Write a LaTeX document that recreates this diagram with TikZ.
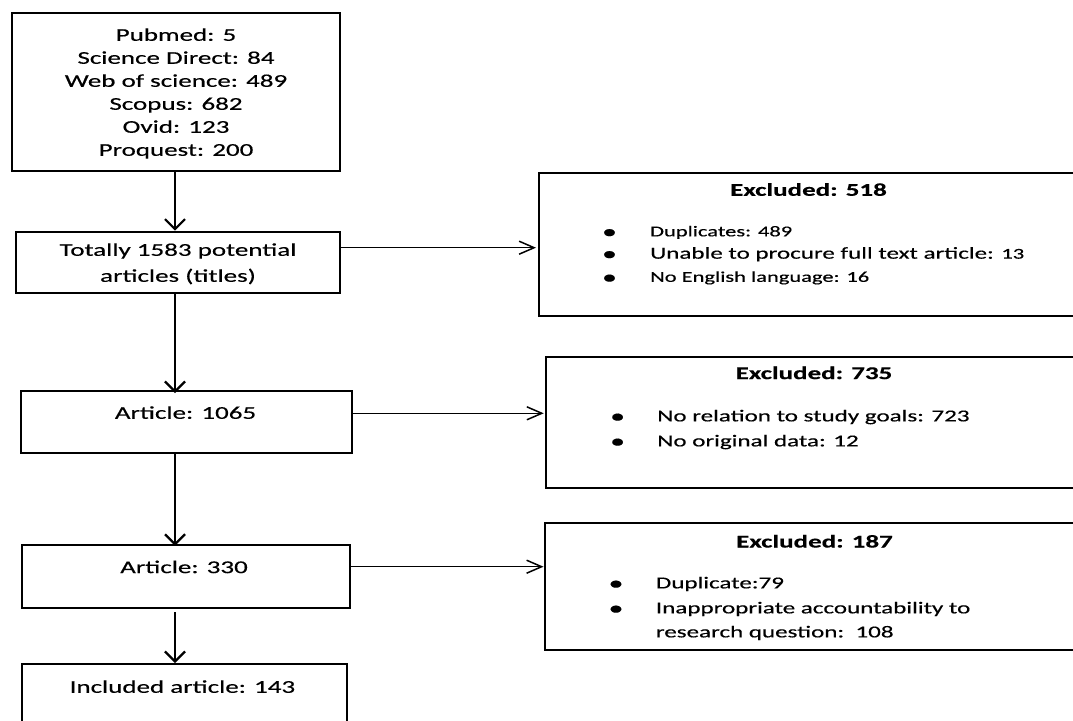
\documentclass[tikz,border=0pt]{standalone}
\usepackage{fontspec}
\setmainfont{Carlito}[FakeStretch=1.5,FakeBold=0.4]
\usetikzlibrary{arrows.meta}
\begin{document}
\begin{tikzpicture}[x=1pt,y=-1pt,
  box/.style={draw=black, line width=2pt, inner sep=0pt},
  tL/.style={inner sep=0pt, text depth=0pt, text height=11.6pt, font=\fontsize{18}{22}\selectfont},
  tM/.style={inner sep=0pt, text depth=0pt, text height=10.75pt, font=\fontsize{16.7}{20}\selectfont},
  tS/.style={inner sep=0pt, text depth=0pt, text height=9.66pt, font=\fontsize{15}{18}\selectfont},
  tB/.style={tL, font=\bfseries\fontsize{18}{22}\selectfont},
  bul/.style={inner sep=0pt, yshift=-2.2pt, font=\fontsize{20}{24}\selectfont},
  varr/.style={draw=black, line width=2.2pt, -{Straight Barb[length=10pt,width=20pt]}},
  harr/.style={draw=black, line width=1.5pt, -{Straight Barb[length=15pt,width=13pt]}}]
\useasboundingbox (0,0) rectangle (1073,720);
\fill[white] (0,0) rectangle (1073,720);

% boxes
\node[box, minimum width=327.8pt, minimum height=157.7pt] (b1) at (176.3,92.15) {};
\node[box, minimum width=323.7pt, minimum height=61.6pt] (b2) at (178.15,262.5) {};
\node[box, minimum width=546pt, minimum height=143.3pt] (b3) at (812,244.35) {};
\node[box, minimum width=330.4pt, minimum height=62.3pt] (b4) at (186.6,422.15) {};
\node[box, minimum width=538.8pt, minimum height=130.8pt] (b5) at (815.6,422.1) {};
\node[box, minimum width=328.5pt, minimum height=63pt] (b6) at (186.15,576.8) {};
\node[box, minimum width=540.5pt, minimum height=126.7pt] (b7) at (814.75,586.65) {};
\node[box, minimum width=325.1pt, minimum height=76pt] (b8) at (184.45,702) {};

% box 1 text
\node[tL] (l11) at (176,35) {Pubmed: 5};
\node[tL] (l12) at (176,58) {Science Direct: 84};
\node[tL] (l13) at (176,81) {Web of science: 489};
\node[tL] (l14) at (176,104) {Scopus: 682};
\node[tL] (l15) at (176,127) {Ovid: 123};
\node[tL] (l16) at (176,150) {Proquest: 200};

% box 2 text
\node[tL] (l21) at (178,250) {Totally 1583 potential};
\node[tL] (l22) at (178,276) {articles (titles)};

% box 4, 6, 8 text
\node[tL] (l41) at (185.5,413) {Article: 1065};
\node[tL] (l61) at (184,567.3) {Article: 330};
\node[tL] (l81) at (182.4,687) {Included article: 143};

% box 3 text
\node[tB] (h3) at (808.5,190) {Excluded: 518};
\node[bul] (d31) at (609.5,231.5) {•};
\node[bul] (d32) at (609.5,253.5) {•};
\node[bul] (d33) at (609.5,277) {•};
\node[tS, anchor=west] (i31) at (650,231.5) {Duplicates: 489};
\node[tM, anchor=west] (i32) at (650,253.3) {Unable to procure full text article: {\fontsize{15}{18}\selectfont 13}};
\node[tS, anchor=west] (i33) at (650,277) {No English language: 16};

% box 5 text
\node[tB] (h5) at (814,373.3) {Excluded: 735};
\node[bul] (d51) at (617.6,416) {•};
\node[bul] (d52) at (617.6,441) {•};
\node[tM, anchor=west] (i51) at (657,416) {No relation to study goals: 723};
\node[tM, anchor=west] (i52) at (657,441) {No original data: 12};

% box 7 text
\node[tB] (h7) at (814.5,541.7) {Excluded: 187};
\node[bul] (d71) at (616,583) {•};
\node[bul] (d72) at (616,608) {•};
\node[tM, anchor=west] (i71) at (655.7,583) {Duplicate:79};
\node[tM, anchor=west] (i72) at (655.7,608) {Inappropriate accountability to};
\node[tM, anchor=west] (i73) at (655.7,632) {research question:~~108};

% connectors
\coordinate (sp) at (175,0);
\coordinate (y1) at (0,247.7);
\coordinate (y2) at (0,413.3);
\coordinate (y3) at (0,566.7);
\draw[varr] (b1.south -| sp) -- (b2.north -| sp);
\draw[varr] (b2.south -| sp) -- ([yshift=-3pt]b4.north -| sp);
\draw[varr] (b4.south -| sp) -- ([yshift=-1.5pt]b6.north -| sp);
\draw[varr, shorten <=3pt] (b6.south -| sp) -- (b8.north -| sp);
\draw[harr] (b2.east |- y1) -- ([xshift=-2pt]b3.west |- y1);
\draw[harr] (b4.east |- y2) -- ([xshift=-1.5pt]b5.west |- y2);
\draw[harr] (b6.east |- y3) -- (b7.west |- y3);
\end{tikzpicture}
\end{document}
